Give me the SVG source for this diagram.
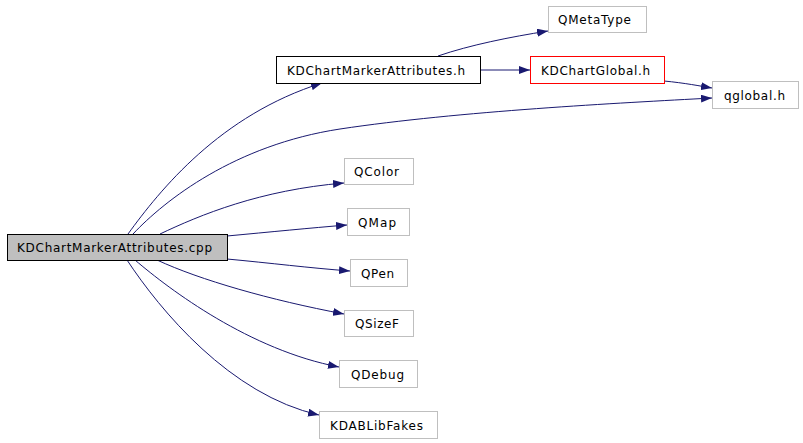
<svg xmlns="http://www.w3.org/2000/svg" width="803" height="443" viewBox="0 0 803 443">
<defs>
<marker id="a" markerWidth="11" markerHeight="8" refX="11" refY="4" orient="auto" markerUnits="userSpaceOnUse"><path d="M0,0 L11,4 L0,8 z" fill="#191970"/></marker>
<style>
.e{fill:none;stroke:#191970;stroke-width:1;marker-end:url(#a)}
.n{fill:#fff;stroke:#bfbfbf;stroke-width:1}
text{font-family:"DejaVu Sans","Liberation Sans",sans-serif;font-size:12px;fill:#000}
</style>
</defs>
<rect width="803" height="443" fill="#fff"/>
<g id="edges">
<path class="e" d="M128,234 C160,190 220,115 322,83"/>
<path class="e" d="M133,234 C165,200 235,145 340,129 C460,111 620,103 712,98"/>
<path class="e" d="M160,234 C200,215 260,190 344,183"/>
<path class="e" d="M227,236 C270,232 310,228 347,225"/>
<path class="e" d="M227,259 C270,263 310,268 350,271"/>
<path class="e" d="M157,260 C200,280 270,300 344,314"/>
<path class="e" d="M135,260 C170,290 250,350 339,367"/>
<path class="e" d="M127,260 C160,310 230,395 319,415"/>
<path class="e" d="M438,56 C470,45 510,37 548,31"/>
<path class="e" d="M480,70 L530,70"/>
<path class="e" d="M664,81 C685,83 700,86 712,88"/>
</g>
<g id="cpp"><rect x="7.5" y="234.5" width="220" height="26" fill="#bfbfbf" stroke="#000"/><text x="17" y="252" textLength="195" lengthAdjust="spacing">KDChartMarkerAttributes.cpp</text></g>
<g id="h"><rect x="276.5" y="56.5" width="204" height="27" fill="#fff" stroke="#000"/><text x="287" y="75" textLength="178" lengthAdjust="spacing">KDChartMarkerAttributes.h</text></g>
<g id="qmetatype"><rect class="n" x="548.5" y="6.5" width="98" height="26"/><text x="558" y="24" textLength="73" lengthAdjust="spacing">QMetaType</text></g>
<g id="kdchartglobal"><rect x="530.5" y="56.5" width="134" height="27" fill="#fff" stroke="#f00"/><text x="541" y="75" textLength="109" lengthAdjust="spacing">KDChartGlobal.h</text></g>
<g id="qglobal"><rect class="n" x="712.5" y="81.5" width="86" height="27"/><text x="724" y="100" textLength="61" lengthAdjust="spacing">qglobal.h</text></g>
<g id="qcolor"><rect class="n" x="344.5" y="158.5" width="69" height="26"/><text x="354" y="176" textLength="45" lengthAdjust="spacing">QColor</text></g>
<g id="qmap"><rect class="n" x="347.5" y="208.5" width="62" height="27"/><text x="358" y="227" textLength="38" lengthAdjust="spacing">QMap</text></g>
<g id="qpen"><rect class="n" x="350.5" y="259.5" width="57" height="27"/><text x="361" y="278" textLength="33" lengthAdjust="spacing">QPen</text></g>
<g id="qsizef"><rect class="n" x="344.5" y="310.5" width="69" height="26"/><text x="355" y="328" textLength="44" lengthAdjust="spacing">QSizeF</text></g>
<g id="qdebug"><rect class="n" x="339.5" y="360.5" width="78" height="27"/><text x="351" y="379" textLength="53" lengthAdjust="spacing">QDebug</text></g>
<g id="kdablibfakes"><rect class="n" x="319.5" y="411.5" width="118" height="27"/><text x="330" y="430" textLength="93" lengthAdjust="spacing">KDABLibFakes</text></g>
</svg>
